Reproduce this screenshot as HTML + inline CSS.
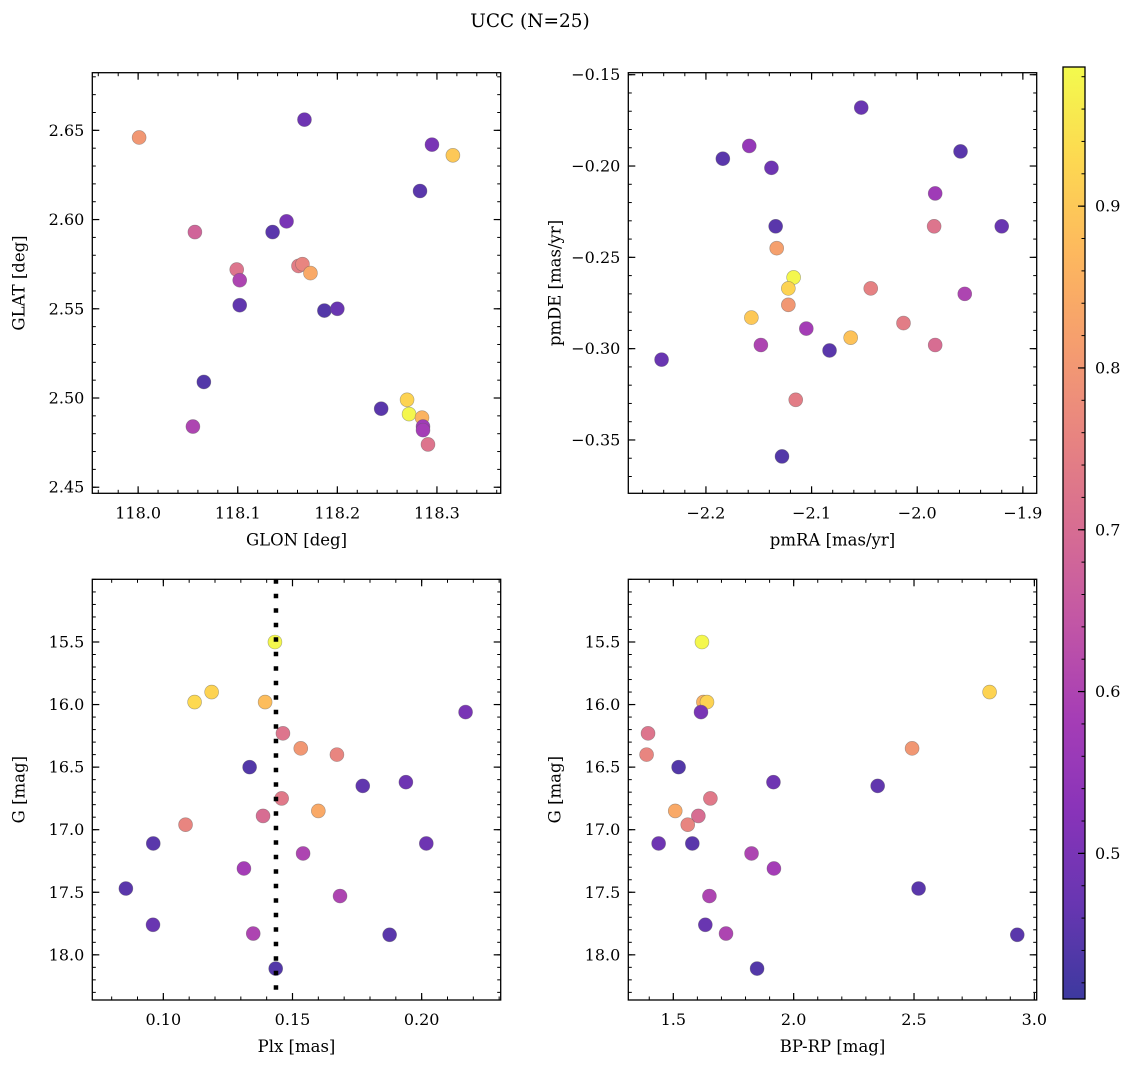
<!DOCTYPE html>
<html><head><meta charset="utf-8">
<style>
html,body{margin:0;padding:0;background:#fff;}
svg{display:block;font-family:"DejaVu Serif","Liberation Serif",serif;}
</style></head>
<body>
<svg id="fig" width="1136" height="1067" viewBox="0 0 1136 1067" xmlns="http://www.w3.org/2000/svg">
<text x="530" y="27" font-size="18.5" text-anchor="middle">UCC (N=25)</text>
</svg>
<script>
// ---- data: panel 1 (GLON vs GLAT)
const glon = [118.001,118.057,118.167,118.295,118.316,118.283,118.149,118.135,118.099,118.102,118.102,118.161,118.165,118.173,118.187,118.200,118.066,118.055,118.244,118.270,118.272,118.285,118.286,118.286,118.291];
const glat = [2.646,2.593,2.656,2.642,2.636,2.616,2.599,2.593,2.572,2.566,2.552,2.574,2.575,2.570,2.549,2.550,2.509,2.484,2.494,2.499,2.491,2.489,2.484,2.482,2.474];
const prob1 = [0.80,0.68,0.48,0.50,0.90,0.45,0.50,0.45,0.72,0.60,0.46,0.74,0.76,0.84,0.44,0.47,0.44,0.60,0.45,0.92,0.98,0.86,0.57,0.58,0.72];
// ---- panel 2 (pmRA vs pmDE)
const pmra = [-2.053,-2.159,-2.184,-2.138,-1.959,-1.983,-1.920,-2.134,-1.984,-2.133,-2.117,-2.122,-2.044,-1.955,-2.122,-2.157,-2.105,-2.013,-2.148,-2.063,-2.083,-1.983,-2.242,-2.115,-2.128];
const pmde = [-0.168,-0.189,-0.196,-0.201,-0.192,-0.215,-0.233,-0.233,-0.233,-0.245,-0.261,-0.267,-0.267,-0.270,-0.276,-0.283,-0.289,-0.286,-0.298,-0.294,-0.301,-0.298,-0.306,-0.328,-0.359];
const prob2 = [0.47,0.55,0.45,0.48,0.45,0.57,0.47,0.45,0.72,0.82,0.98,0.92,0.75,0.60,0.80,0.90,0.58,0.74,0.60,0.89,0.45,0.70,0.47,0.74,0.44];
// ---- panel 3 (Plx vs G) and panel 4 (BP-RP vs G)
const plx = [0.1432,0.1121,0.1187,0.1394,0.2170,0.1463,0.1532,0.1672,0.1334,0.1772,0.1939,0.1458,0.1600,0.1386,0.1086,0.0961,0.2018,0.1541,0.1312,0.0855,0.1684,0.0960,0.1348,0.1876,0.1435];
const gmag3 = [15.50,15.98,15.90,15.98,16.06,16.23,16.35,16.40,16.50,16.65,16.62,16.75,16.85,16.89,16.96,17.11,17.11,17.19,17.31,17.47,17.53,17.76,17.83,17.84,18.11];
const prob3 = [0.98,0.93,0.92,0.88,0.50,0.72,0.80,0.76,0.44,0.46,0.48,0.73,0.84,0.70,0.76,0.45,0.48,0.60,0.58,0.45,0.60,0.47,0.60,0.45,0.44];
const bprp = [1.619,1.625,1.640,2.814,1.615,1.395,2.492,1.389,1.522,2.349,1.916,1.654,1.508,1.604,1.560,1.439,1.579,1.825,1.918,2.519,1.650,1.633,1.719,2.929,1.848];
const gmag4 = [15.50,15.98,15.98,15.90,16.06,16.23,16.35,16.40,16.50,16.65,16.62,16.75,16.85,16.89,16.96,17.11,17.11,17.19,17.31,17.47,17.53,17.76,17.83,17.84,18.11];
const prob4 = [0.98,0.86,0.92,0.92,0.50,0.72,0.80,0.76,0.44,0.46,0.48,0.73,0.84,0.70,0.76,0.48,0.45,0.60,0.58,0.45,0.60,0.47,0.60,0.45,0.44];
const plxLine = [0.1436];
// tick labels
const ticks1x = [118.0,118.1,118.2,118.3];
const ticks1y = [2.45,2.50,2.55,2.60,2.65];
const ticks2x = [-2.2,-2.1,-2.0,-1.9];
const ticks2y = [-0.35,-0.30,-0.25,-0.20,-0.15];
const ticks3x = [0.10,0.15,0.20];
const ticksGy = [15.5,16.0,16.5,17.0,17.5,18.0];
const ticks4x = [1.5,2.0,2.5,3.0];
const ticksCb = [0.5,0.6,0.7,0.8,0.9];

const NS = "http://www.w3.org/2000/svg";
const svg = document.getElementById('fig');
function mk(tag, attrs, parent){
  const e = document.createElementNS(NS, tag);
  for (const k in attrs) e.setAttribute(k, attrs[k]);
  (parent||svg).appendChild(e);
  return e;
}
const plasma = [[13,8,135],[65,4,157],[106,0,168],[143,13,164],[177,42,144],[204,71,120],[225,100,98],[242,132,75],[252,166,54],[252,206,37],[240,249,33]];
const CMIN = 0.41, CMAX = 0.986;
function cmap(v){
  let t = (v-CMIN)/(CMAX-CMIN); t = Math.max(0,Math.min(1,t));
  const f = t*10, i = Math.min(9,Math.floor(f)), r = f-i;
  const a = plasma[i], b = plasma[i+1];
  const c = [0,1,2].map(k=>Math.round(a[k]+(b[k]-a[k])*r));
  const m = c.map(x=>Math.round(x*0.8+255*0.2));
  return `rgb(${m[0]},${m[1]},${m[2]})`;
}
function fmt(v, d){ const s = v.toFixed(d); return s.replace('-', '\u2212'); }
const TFS = 16, LFS = 16.5;

function panel(opt){
  const {name,L,T,R,B,xmin,xmax,ymin,ymax,invY,xs,ys,cs,xt,yt,xd,yd,xminor,yminor,xlabel,ylabel} = opt;
  const sx = v => L + (v-xmin)/(xmax-xmin)*(R-L);
  const sy = v => invY ? T + (v-ymin)/(ymax-ymin)*(B-T) : B - (v-ymin)/(ymax-ymin)*(B-T);
  const g = mk('g', {});
  
  
  const lo = Math.ceil(Math.min(xmin,xmax)/xminor-1e-6), hi = Math.floor(Math.max(xmin,xmax)/xminor+1e-6);
  for (let k=lo;k<=hi;k++){
    const x = sx(k*xminor);
    mk('line',{x1:x,x2:x,y1:B,y2:B-3.5,stroke:'#000','stroke-width':1},g);
    mk('line',{x1:x,x2:x,y1:T,y2:T+3.5,stroke:'#000','stroke-width':1},g);
  }
  const lo2 = Math.ceil(ymin/yminor-1e-6), hi2 = Math.floor(ymax/yminor+1e-6);
  for (let k=lo2;k<=hi2;k++){
    const y = sy(k*yminor);
    mk('line',{x1:L,x2:L+3.5,y1:y,y2:y,stroke:'#000','stroke-width':1},g);
    mk('line',{x1:R,x2:R-3.5,y1:y,y2:y,stroke:'#000','stroke-width':1},g);
  }
  xt.forEach(v=>{
    const x = sx(v);
    mk('line',{x1:x,x2:x,y1:B,y2:B-7,stroke:'#000','stroke-width':1.2},g);
    mk('line',{x1:x,x2:x,y1:T,y2:T+7,stroke:'#000','stroke-width':1.2},g);
    const t = mk('text',{x:x,y:B+25,'font-size':TFS,'text-anchor':'middle'},g);
    t.textContent = fmt(v,xd);
    
    
  });
  yt.forEach(v=>{
    const y = sy(v);
    mk('line',{x1:L,x2:L+7,y1:y,y2:y,stroke:'#000','stroke-width':1.2},g);
    mk('line',{x1:R,x2:R-7,y1:y,y2:y,stroke:'#000','stroke-width':1.2},g);
    const t = mk('text',{x:L-8,y:y+5.5,'font-size':TFS,'text-anchor':'end'},g);
    t.textContent = fmt(v,yd);
    
    
  });
  xs.forEach((v,i)=>{
    const c = mk('circle',{cx:sx(v),cy:sy(ys[i]),r:7,fill:cmap(cs[i]),stroke:'rgba(90,90,90,0.5)','stroke-width':0.6},g);
    
    
  });
  if (opt.vline){
    opt.vline.forEach(v=>{
      const l = mk('line',{x1:sx(v),x2:sx(v),y1:T,y2:B,stroke:'#000','stroke-width':4.5,'stroke-dasharray':'4.5 10'},g);
      
      
    });
  }
  const fr = mk('rect',{x:L,y:T,width:R-L,height:B-T,fill:'none',stroke:'#000','stroke-width':1.3},g);
  
  
  const xl = mk('text',{x:(L+R)/2,y:B+52,'font-size':LFS,'text-anchor':'middle'},g);
  xl.textContent = xlabel;
  
  
  const cy = (T+B)/2, cx = L-68;
  const yl = mk('text',{x:cx,y:cy,'font-size':LFS,'text-anchor':'middle',transform:`rotate(-90 ${cx} ${cy})`},g);
  yl.textContent = ylabel;
  
  
}

panel({name:'glon-glat',L:92.3,T:72.7,R:500.7,B:493.3,xmin:117.954,xmax:118.364,ymin:2.4466,ymax:2.6823,
  xs:glon,ys:glat,cs:prob1,xt:ticks1x,yt:ticks1y,xd:1,yd:2,xminor:0.02,yminor:0.01,xlabel:'GLON [deg]',ylabel:'GLAT [deg]'});
panel({name:'pmra-pmde',L:628.3,T:72.7,R:1036.7,B:493.3,xmin:-2.2735,xmax:-1.8869,ymin:-0.3792,ymax:-0.1489,
  xs:pmra,ys:pmde,cs:prob2,xt:ticks2x,yt:ticks2y,xd:1,yd:2,xminor:0.02,yminor:0.01,xlabel:'pmRA [mas/yr]',ylabel:'pmDE [mas/yr]'});
panel({name:'plx-g',L:92.3,T:579.3,R:500.7,B:1000,xmin:0.0725,xmax:0.2306,ymin:14.999,ymax:18.361,invY:true,
  xs:plx,ys:gmag3,cs:prob3,xt:ticks3x,yt:ticksGy,xd:2,yd:1,xminor:0.01,yminor:0.1,xlabel:'Plx [mas]',ylabel:'G [mag]',vline:plxLine});
panel({name:'bprp-g',L:628.3,T:579.3,R:1036.7,B:1000,xmin:1.313,xmax:3.0097,ymin:14.999,ymax:18.361,invY:true,
  xs:bprp,ys:gmag4,cs:prob4,xt:ticks4x,yt:ticksGy,xd:1,yd:1,xminor:0.1,yminor:0.1,xlabel:'BP-RP [mag]',ylabel:'G [mag]'});

// colorbar
(function(){
  const L=1063, R=1085, T=67, B=999;
  const sy = v => B - (v-CMIN)/(CMAX-CMIN)*(B-T);
  const g = mk('g',{});
  
  
  const defs = mk('defs',{},g);
  const lg = mk('linearGradient',{id:'cbg',x1:0,y1:1,x2:0,y2:0},defs);
  for (let i=0;i<=20;i++){
    const v = CMIN + (CMAX-CMIN)*i/20;
    mk('stop',{offset:(i/20),'stop-color':cmap(v)},lg);
  }
  mk('rect',{x:L,y:T,width:R-L,height:B-T,fill:'url(#cbg)'},g);
  for (let k=Math.ceil(CMIN/0.02);k<=Math.floor(CMAX/0.02);k++){
    const y = sy(k*0.02);
    mk('line',{x1:R,x2:R-3.5,y1:y,y2:y,stroke:'#000','stroke-width':1},g);
  }
  ticksCb.forEach(v=>{
    const y = sy(v);
    mk('line',{x1:R,x2:R-7,y1:y,y2:y,stroke:'#000','stroke-width':1.2},g);
    const t = mk('text',{x:R+10,y:y+5.5,'font-size':TFS},g);
    t.textContent = v.toFixed(1);
    
    
  });
  mk('rect',{x:L,y:T,width:R-L,height:B-T,fill:'none',stroke:'#000','stroke-width':1.3},g);
})();
</script>
</body></html>
